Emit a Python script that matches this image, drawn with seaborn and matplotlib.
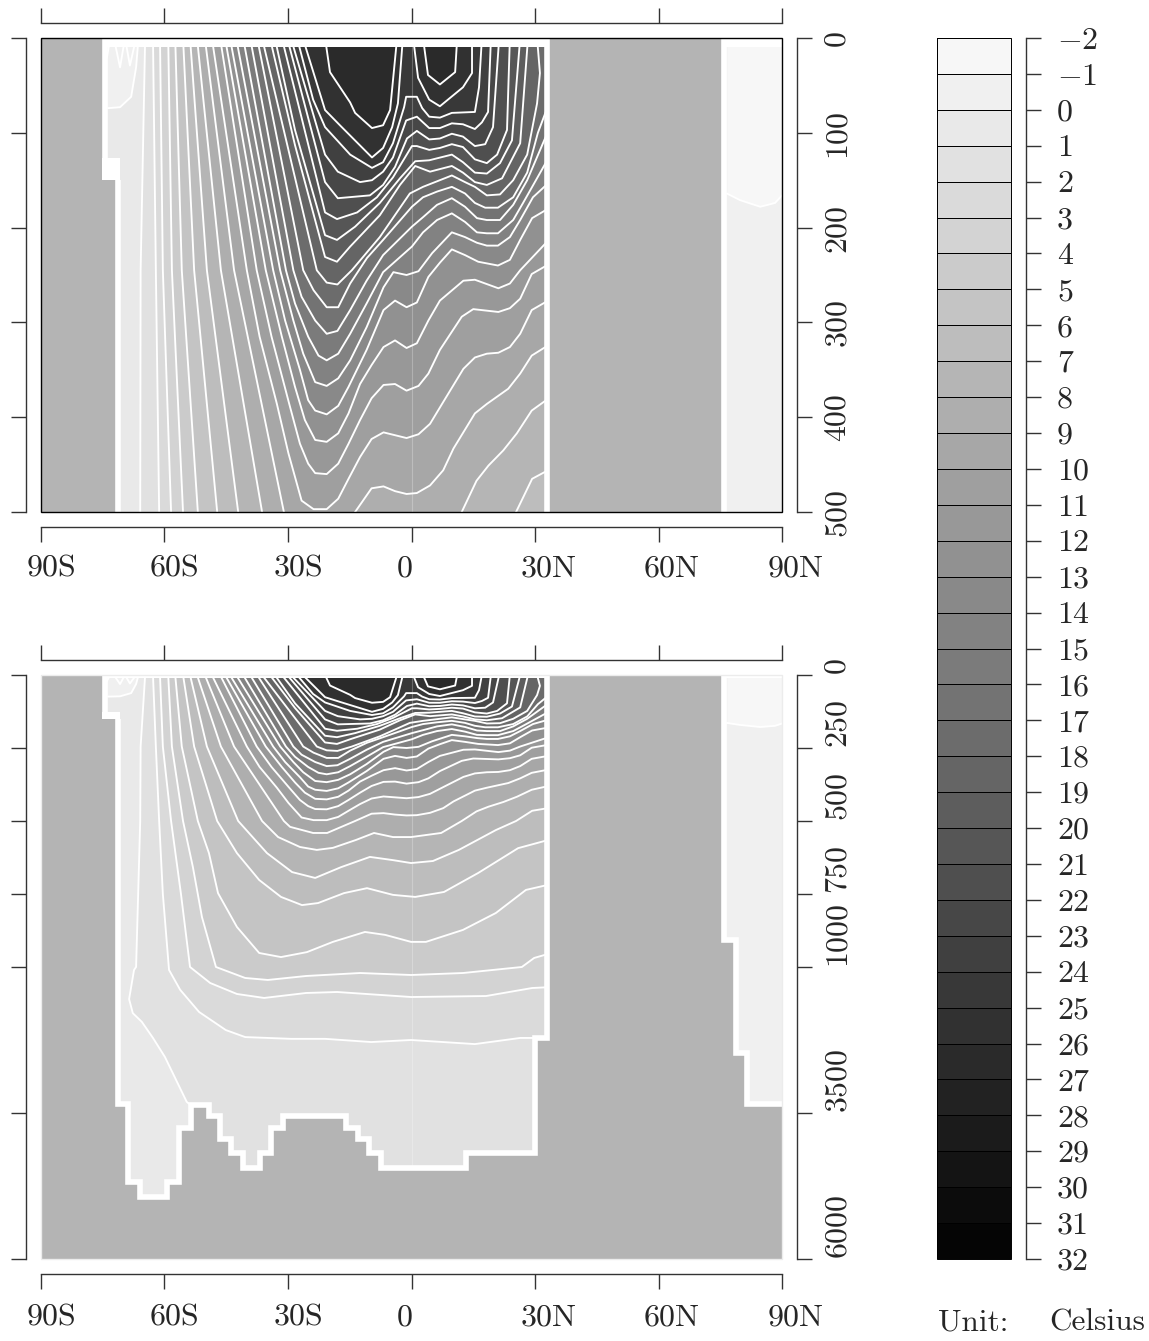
import numpy as np
import pandas as pd
import seaborn as sns
import matplotlib
matplotlib.use('Agg')
import matplotlib.pyplot as plt
from matplotlib.colors import ListedColormap
from matplotlib.patches import Rectangle

sns.set_style('white')
plt.rcParams['font.family'] = ['cmr10', 'DejaVu Serif']
plt.rcParams['mathtext.fontset'] = 'cm'
plt.rcParams['axes.formatter.use_mathtext'] = True
plt.rcParams['axes.unicode_minus'] = False

# Isotherms: latitude (deg) and depth (m) along each line
tm1_lat = [-74, -73.2, -72.3, -70.8, -69.6, -68.4, -66.9]
tm1_dep = [21, 0, 0, 31, 0, 29, 0]
t0_lat = [-75, -73.7, -70.8, -68.1, -66.9, -66.5, -66.5]
t0_dep = [74, 74, 73, 62, 31, 10, 0]
t1_lat = [-64.7, -65.8, -65.9, -66.9, -67.4, -68.6, -67.7, -65.5, -62.8, -59.9, -54.6, -53, -53]
t1_dep = [0, 245, 500, 1000, 1050, 1550, 1790, 1940, 2215, 2540, 3310, 3400, 6500]
t2_lat = [-62.8, -62.1, -61.3, -60.4, -58.9, -56.2, -51.6, -45.1, -40.4, -29.3, -21, -9.8, -0.1, 15.4, 26.4, 34]
t2_dep = [0, 245, 500, 750, 1050, 1390, 1770, 2080, 2200, 2230, 2230, 2285, 2250, 2320, 2215, 2215]
t3_lat = [-61.1, -60.4, -58.4, -56, -53.8, -48.9, -42.4, -35.8, -25.6, -18.1, -0.1, 18.1, 29.3, 34]
t3_dep = [0, 245, 500, 750, 1000, 1274, 1462, 1530, 1445, 1428, 1514, 1497, 1360, 1343]
t4_lat = [-59.1, -58.2, -55.5, -53.1, -50.9, -47.5, -40.4, -34.9, -25.6, -12.5, -0.1, 12.5, 26.8, 29.8, 34]
t4_dep = [0, 245, 500, 658, 829, 1000, 1188, 1222, 1154, 1103, 1137, 1103, 1000, 969, 952]
t5_lat = [-57.4, -55.8, -51.9, -49.2, -47, -42.4, -37, -31.7, -25.4, -19.1, -11.3, -6.4, -0.1, 3.5, 12.5, 20.5, 27.8, 34]
t5_dep = [0, 245, 500, 610, 747, 863, 952, 966, 949, 914, 880, 890, 914, 914, 873, 815, 736, 716]
t6_lat = [-55.5, -52.8, -47.2, -42.4, -37, -31.7, -26.6, -22.7, -16.4, -10.8, -4.5, 0.9, 7.9, 16.2, 25.9, 34]
t6_dep = [0, 245, 500, 610, 702, 760, 788, 781, 747, 730, 753, 760, 743, 678, 593, 562]
t7_lat = [-53.8, -49.7, -42.1, -35.1, -29, -23.4, -17.1, -10.1, -4.5, -0.1, 5.2, 11.5, 20.5, 25.4, 29.3, 34]
t7_dep = [0, 245, 500, 610, 675, 695, 658, 623, 634, 644, 637, 599, 531, 500, 465, 454]
t8_lat = [-52.1, -46.3, -36.3, -32.4, -27.1, -23, -19.1, -13.5, -9.1, -4.5, -0.1, 7.2, 12.2, 15.8, 18.7, 22.3, 25.6, 29.2, 34]
t8_dep = [0, 245, 500, 555, 589, 599, 592, 565, 541, 555, 555, 541, 500, 467, 451, 435, 417, 393, 378]
t9_lat = [-50.2, -43.1, -31, -29.5, -23.9, -20.5, -13.7, -9.7, -6.8, -4, -1.2, 1.3, 4.5, 7.7, 10.2, 15.4, 18.3, 23.5, 26.4, 29.2, 34]
t9_dep = [0, 245, 500, 520, 541, 541, 500, 475, 473, 478, 481, 480, 472, 456, 433, 396, 386, 370, 354, 335, 322]
t10_lat = [-48.5, -40, -36.9, -32.7, -29.9, -26.7, -23.8, -20.6, -17.8, -15.3, -12.5, -9.7, -6.8, -1.2, 1.7, 4.5, 7.7, 12.6, 15.4, 18.3, 21.1, 23.9, 26.4, 29.2, 34]
t10_dep = [0, 245, 315, 386, 438, 488, 497, 497, 486, 465, 442, 423, 416, 422, 418, 407, 384, 349, 337, 333, 332, 326, 312, 287, 275]
t11_lat = [-46.5, -37.6, -34, -29.7, -27.1, -25.1, -23.4, -20.6, -17.8, -15.3, -12.5, -9.7, -6.8, -4, -1.2, 1.7, 4.1, 6.9, 12.2, 15, 21.1, 23.9, 26.4, 29.2, 34]
t11_dep = [0, 245, 315, 386, 428, 449, 459, 460, 449, 428, 403, 380, 366, 365, 372, 367, 354, 329, 294, 286, 289, 285, 275, 249, 237]
t12_lat = [-45.3, -35.4, -31.5, -28.3, -25.9, -23.4, -20.6, -17.8, -15.3, -12.5, -9.7, -6.8, -4, -1.2, 1.3, 4.1, 6.9, 12.6, 15.4, 21.1, 23.9, 26.4, 34]
t12_dep = [0, 245, 315, 368, 403, 424, 426, 417, 396, 365, 345, 326, 319, 327, 322, 298, 277, 256, 255, 264, 259, 245, 210]
t13_lat = [-44.1, -33.6, -30.7, -27.1, -25.1, -23.4, -20.6, -17.8, -15.3, -10.9, -6.8, -4, -1.2, 1.3, 4.1, 6.9, 9.8, 13, 16.2, 21, 23.9, 26.4, 29.3, 34]
t13_dep = [0, 245, 298, 350, 382, 393, 397, 388, 368, 329, 287, 277, 284, 279, 252, 237, 223, 229, 236, 240, 234, 213, 190, 178]
t14_lat = [-42.6, -31.9, -28.7, -26.3, -23.4, -20.6, -17.8, -14.9, -10.9, -6.8, -4.4, -1.2, 1.7, 5, 9.8, 13, 15.9, 18.3, 21, 23.9, 26.4, 29.5, 34]
t14_dep = [0, 245, 298, 333, 363, 367, 359, 340, 305, 263, 247, 250, 246, 227, 205, 210, 216, 219, 219, 210, 192, 168, 150]
t15_lat = [-40.9, -30.5, -28.3, -25.1, -22.6, -20.6, -17.8, -14.9, -10.9, -6.9, 0.1, 2.8, 6.2, 9.8, 13, 15.9, 18.3, 21, 24.7, 27.1, 34]
t15_dep = [0, 245, 280, 315, 335, 340, 333, 312, 280, 247, 220, 205, 192, 185, 194, 205, 206, 206, 192, 174, 121]
t16_lat = [-39.2, -28.7, -26.7, -23.4, -20.6, -18, -14.9, -10.9, -6.9, 0.1, 2.8, 6.2, 9.8, 13, 15.9, 18.3, 21.5, 24.7, 28.1, 34]
t16_dep = [0, 245, 273, 298, 312, 309, 287, 256, 229, 199, 189, 176, 169, 178, 190, 192, 192, 176, 150, 90]
t17_lat = [-37.5, -26.3, -23.8, -20.6, -17.8, -14.9, -10.8, -6.9, 0.1, 2.8, 6.2, 9.8, 13, 15.4, 17.9, 21, 24.7, 28.1, 30.7, 34]
t17_dep = [0, 245, 266, 284, 284, 259, 232, 213, 178, 168, 162, 157, 164, 174, 179, 179, 168, 142, 100, 62]
t18_lat = [-36.3, -23, -20.6, -18, -14.5, -7.7, -0.4, 2.8, 9.8, 13, 15.4, 18.3, 21.5, 24.7, 28.1, 30.5, 31.2, 30.5]
t18_dep = [0, 245, 258, 260, 245, 210, 164, 157, 145, 152, 157, 166, 165, 150, 123, 69, 37, 0]
t19_lat = [-34.4, -28.3, -21, -18.1, -14.9, -7.7, -2.8, 0.9, 4.5, 9.8, 12.5, 15.4, 18.3, 22, 26.4, 28.3]
t19_dep = [0, 113, 231, 236, 220, 187, 155, 135, 141, 135, 142, 152, 155, 148, 111, 0]
t20_lat = [-33.2, -28.3, -21, -18.1, -13.7, -7.7, -2.8, 0.9, 4.3, 9.8, 12.5, 15.4, 18.3, 21.5, 24.4, 26.4]
t20_dep = [0, 97, 208, 213, 199, 174, 148, 130, 129, 123, 131, 142, 143, 132, 108, 0]
t21_lat = [-31.5, -21, -18.1, -13.2, -8.4, -4.5, 0.1, 1.3, 4.3, 6.9, 9.8, 12.5, 15.4, 18.3, 20.8, 23.2, 23.9]
t21_dep = [0, 184, 191, 184, 168, 147, 114, 114, 118, 116, 112, 115, 128, 132, 123, 97, 0]
t22_lat = [-30.2, -21, -17.9, -10.1, -6.9, -4, -1.1, 1.3, 4.3, 6.9, 9.8, 12.5, 15.4, 17.9, 19.8, 21.3]
t22_dep = [0, 152, 169, 166, 155, 136, 106, 98, 107, 106, 101, 104, 114, 112, 94, 0]
t23_lat = [-29.3, -21, -17.9, -12.5, -9.6, -6.9, -4.5, -1.3, 1.3, 4.3, 6.9, 9.8, 12.5, 15.4, 17.1, 18.6, 19.3]
t23_dep = [0, 123, 141, 152, 150, 141, 126, 87, 83, 95, 95, 90, 91, 96, 89, 78, 0]
t24_lat = [-27.8, -23.9, -21, -14.9, -9.6, -6.9, -4.5, -1.8, -1.3, 1.3, 2.6, 4.3, 6.9, 9.8, 15.4, 16.4, 17.1]
t24_dep = [0, 65, 94, 123, 137, 131, 111, 73, 62, 62, 74, 83, 84, 79, 78, 52, 0]
t25w_lat = [-26.4, -21, -17.4, -9.6, -6.9, -4.7, -3.3, -2.1]
t25w_dep = [0, 76, 92, 126, 116, 94, 69, 0]
t25e_lat = [0.4, 1.6, 4.3, 6.9, 12.5, 14.7, 14.7]
t25e_dep = [0, 42, 65, 72, 52, 37, 0]
t26w_lat = [-21, -19.8, -14.9, -13.7, -9.6, -6.9, -5.2, -3.5]
t26w_dep = [0, 36, 68, 79, 95, 92, 76, 0]
t26e_lat = [2.8, 4, 6.9, 10.6, 11.1]
t26e_dep = [0, 39, 49, 36, 0]

# Arctic basin
arctic_tm1_lat = [76.6, 79.8, 84.7, 88.3, 90]
arctic_tm1_dep = [164, 171, 178, 174, 166]

# Sea floor as steps: cell edges (deg) and depth of each cell (m)
bathy_lat = [-74.4, -71.4, -68.8, -66.0, -59.3, -56.4, -53.5, -49.2, -46.5, -43.8, -40.9, -36.9, -34.1, -31.3,
             -15.9, -13.0, -10.3, -7.5, 13.2, 30.0, 32.8]
bathy_dep = [150, 3345, 4680, 4938, 4680, 3756, 3363, 3551, 3945, 4184, 4441, 4184, 3756, 3551, 3756, 3945,
             4184, 4441, 4184, 2210]
arctic_bathy_lat = [76, 78.8, 81.6, 90]
arctic_bathy_dep = [906, 2472, 3345]

levels = list(range(-2, 33))
lat_ticks = [-90, -60, -30, 0, 30, 60, 90]
lat_labels = ['90S', '60S', '30S', '0', '30N', '60N', '90N']
top_depth_ticks = [0, 100, 200, 300, 400, 500]
deep_depth_ticks = [0, 250, 500, 750, 1000, 3500, 6000]

# (temperature, lat, depth): warm water is painted over cold water
isotherms = [(1, t1_lat, t1_dep), (2, t2_lat, t2_dep), (3, t3_lat, t3_dep), (4, t4_lat, t4_dep),
             (5, t5_lat, t5_dep), (6, t6_lat, t6_dep), (7, t7_lat, t7_dep), (8, t8_lat, t8_dep),
             (9, t9_lat, t9_dep), (10, t10_lat, t10_dep), (11, t11_lat, t11_dep), (12, t12_lat, t12_dep),
             (13, t13_lat, t13_dep), (14, t14_lat, t14_dep), (15, t15_lat, t15_dep), (16, t16_lat, t16_dep),
             (17, t17_lat, t17_dep), (18, t18_lat, t18_dep), (19, t19_lat, t19_dep), (20, t20_lat, t20_dep),
             (21, t21_lat, t21_dep), (22, t22_lat, t22_dep), (23, t23_lat, t23_dep), (24, t24_lat, t24_dep),
             (25, t25w_lat, t25w_dep), (25, t25e_lat, t25e_dep), (26, t26w_lat, t26w_dep), (26, t26e_lat, t26e_dep)]

grays = np.linspace(0.97, 0.02, len(levels) - 1)
band_colors = [str(g) for g in grays]
land = '#b4b4b4'
PX = 72 / 100  # points per pixel at dpi 100
W, H = 1149, 1341


def band(temp):
    return band_colors[temp + 2]


def contour(ax, lat, dep):
    sns.lineplot(x=lat, y=dep, sort=False, estimator=None, color='white', linewidth=1.35, ax=ax, zorder=2)


def draw_section(ax):
    # ocean background and water masses
    ax.axvspan(-75, 34, color=band(0), lw=0, zorder=0)
    ax.fill(t0_lat + [-75], t0_dep + [0], color=band(-1), lw=0, zorder=1)
    contour(ax, t0_lat[1:], t0_dep[1:])
    contour(ax, tm1_lat, tm1_dep)
    for temp, lat, dep in isotherms:
        if temp < 25:
            xs, ys = lat + [34, 34], dep + [dep[-1], 0]
        else:
            xs, ys = lat, dep
        ax.fill(xs, ys, color=band(temp), lw=0, zorder=1)
        contour(ax, lat, dep)

    ax.plot([0, 0], [10, 4441], color='white', alpha=0.25, lw=0.8, zorder=2)

    # arctic basin
    ax.axvspan(76, 90, color=band(-1), lw=0, zorder=0)
    ax.fill_between(arctic_tm1_lat, 0, arctic_tm1_dep, color=band(-2), lw=0, zorder=1)
    contour(ax, arctic_tm1_lat, arctic_tm1_dep)

    # land and the white coast line
    ax.axvspan(-90, bathy_lat[0], color=land, lw=0, zorder=3)
    ax.axvspan(bathy_lat[-1], arctic_bathy_lat[0], color=land, lw=0, zorder=3)
    ax.fill_between(bathy_lat, bathy_dep + [bathy_dep[-1]], 6500, step='post', color=land, lw=0, zorder=3)
    ax.fill_between(arctic_bathy_lat, arctic_bathy_dep + [arctic_bathy_dep[-1]], 6500, step='post',
                    color=land, lw=0, zorder=3)
    ax.fill_between([bathy_lat[0], bathy_lat[-1]], 0, 10, color='white', lw=0, zorder=4)
    ax.fill_between([arctic_bathy_lat[0], 90], 0, 10, color='white', lw=0, zorder=4)
    # the first shelf cell is one grid level thick
    ax.fill_between([-75.1, -70.8], 127, bathy_dep[0], color='white', lw=0, zorder=4)
    for lat, dep in [(bathy_lat[1:], bathy_dep[1:]), (arctic_bathy_lat, arctic_bathy_dep)]:
        xs = np.repeat(lat, 2)
        ys = np.concatenate([[bathy_dep[0] if lat[0] < 0 else 0], np.repeat(dep, 2),
                             [0 if lat[0] < 0 else dep[-1]]])
        ax.plot(xs, ys, color='white', lw=5.6 * PX, solid_joinstyle='miter', solid_capstyle='butt', zorder=4)
    ax.plot([bathy_lat[0]] * 2, [0, 127], color='white', lw=5.6 * PX, solid_capstyle='butt', zorder=4)

    ax.set_xlabel('')
    ax.set_ylabel('')
    ax.set_xlim(-90, 90)


def dress_axes(ax, depth_ticks, frame_color, label_y, bottom_aligned):
    ax.set_xticks(lat_ticks)
    ax.set_yticks(depth_ticks)
    ax.minorticks_off()
    ax.tick_params(which='major', direction='out', length=15 * PX, width=1.0, color='#333333',
                   top=True, bottom=True, left=True, right=True,
                   labeltop=False, labelbottom=False, labelleft=False, labelright=False)
    sns.despine(ax=ax, offset=15 * PX, top=False, right=False, left=False, bottom=False)
    for s in ax.spines.values():
        s.set_linewidth(1.0)
        s.set_color('#333333')
    ax.add_patch(Rectangle((0, 0), 1, 1, transform=ax.transAxes, fill=False, ec=frame_color, lw=1.0,
                           clip_on=False, zorder=6))
    for val, txt in zip(lat_ticks, lat_labels):
        ax.annotate(txt, (val, 0), xycoords=('data', 'axes fraction'), xytext=(-14.5 * PX, label_y * PX),
                    textcoords='offset points', ha='left', va='center', fontsize=23)
    for val in depth_ticks:
        ax.annotate(str(val), (1, val), xycoords=('axes fraction', 'data'),
                    xytext=(55 * PX, 2 * PX if bottom_aligned else 0), textcoords='offset points',
                    rotation=90, ha='center', va='bottom' if bottom_aligned else 'center', fontsize=23)


fig = plt.figure(figsize=(W / 100, H / 100), dpi=100, facecolor='white')


def px_axes(x0, y0, x1, y1):
    return fig.add_axes([x0 / W, 1 - y1 / H, (x1 - x0) / W, (y1 - y0) / H])


# upper 500 m
ax_top = px_axes(41, 38, 782, 512)
draw_section(ax_top)
ax_top.set_ylim(500, 0)
dress_axes(ax_top, top_depth_ticks, 'black', -57, False)

# full depth, 0-1000 m stretched over the upper half
ax_deep = px_axes(41, 675, 782, 1259)
draw_section(ax_deep)
ax_deep.set_yscale('function', functions=(lambda d: np.interp(d, [0, 1000, 6000], [0, 1, 2]),
                                          lambda v: np.interp(v, [0, 1, 2], [0, 1000, 6000])))
ax_deep.set_ylim(6000, 0)
dress_axes(ax_deep, deep_depth_ticks, '#ececec', -59, True)

# colour key
cax = px_axes(937, 38, 1011, 1259)
key = pd.DataFrame({'band': [lev + 0.5 for lev in levels[:-1]]})
sns.heatmap(key, cmap=ListedColormap(band_colors), cbar=False, linewidths=0.7, linecolor='black',
            xticklabels=False, yticklabels=False, ax=cax)
cax.set_yticks(np.arange(len(levels)))
cax.set_yticklabels([f'$-{abs(v)}$' if v < 0 else str(v) for v in levels], rotation=0)
cax.tick_params(axis='y', left=False, labelleft=False, right=True, labelright=True, direction='out',
                length=15 * PX, width=1.0, color='#333333', pad=16 * PX, labelsize=23)
cax.spines['right'].set_visible(True)
cax.spines['right'].set_position(('outward', 15 * PX))
cax.spines['right'].set_color('#333333')
cax.spines['right'].set_linewidth(1.0)
cax.add_patch(Rectangle((0, 0), 1, 1, transform=cax.transAxes, fill=False, ec='black', lw=0.7, clip_on=False))

fig.text(938 / W, 1 - 1323 / H, 'Unit:', ha='left', va='center', fontsize=22.5)
fig.text(1049 / W, 1 - 1323 / H, 'Celsius', ha='left', va='center', fontsize=22.5)

fig.savefig('out.png', dpi=100)
